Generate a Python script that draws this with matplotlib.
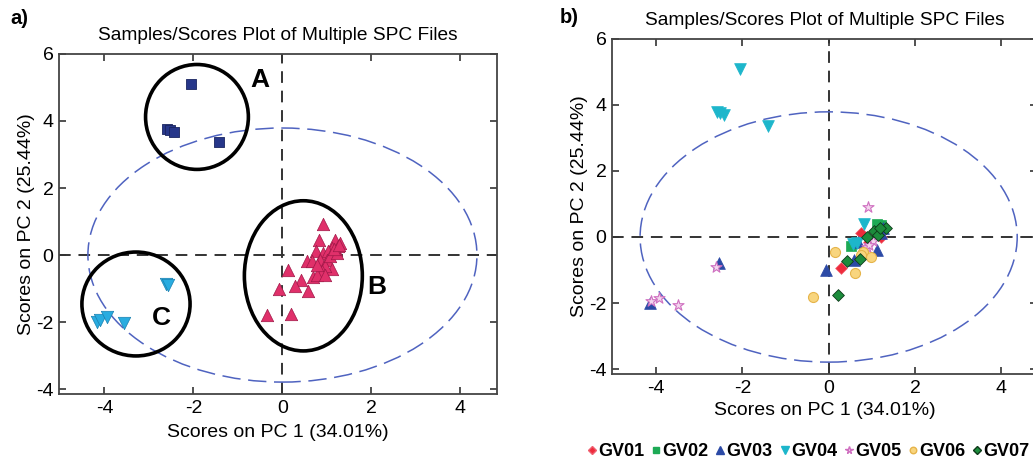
import numpy as np
import matplotlib
matplotlib.use("Agg")
from matplotlib import pyplot as plt
from matplotlib.patches import Ellipse
from matplotlib.lines import Line2D

plt.rcParams['font.family'] = ['Liberation Sans', 'DejaVu Sans']
plt.rcParams['axes.unicode_minus'] = False

# ---- panel a data: three clusters ----
grpA_x = [-2.06, -2.60, -2.52, -2.44, -1.42]
grpA_y = [5.11, 3.77, 3.72, 3.67, 3.37]

grpB_x = [0.92, 0.82, 1.18, 1.30, 1.24, 0.76, 0.92, 1.12, 1.03, 1.21, 0.55, 0.66, 0.85, 1.01,
          1.12, 0.96, 0.88, 0.68, 0.77, 0.41, 0.13, 0.29, -0.07, 0.58, -0.35, 0.19, 0.96, 0.77,
          1.06, 1.22, 1.15, 1.27]
grpB_y = [0.93, 0.44, 0.44, 0.35, 0.26, 0.11, 0.06, 0.21, 0.11, 0.16, -0.19, -0.17, -0.14, -0.16,
          -0.41, -0.34, -0.47, -0.64, -0.59, -0.74, -0.44, -0.92, -1.01, -1.06, -1.78, -1.75, -0.59, -0.29,
          -0.04, 0.06, 0.18, 0.30]

grpC_x = [-2.62, -2.56, -4.16, -4.10, -3.95, -3.55]
grpC_y = [-0.86, -0.90, -2.00, -1.94, -1.85, -2.02]

# hand-drawn cluster circles (center x, center y, width, height) and labels
circ_A = (-1.92, 4.12, 2.31, 3.13)
circ_B = (0.47, -0.62, 2.65, 4.48)
circ_C = (-3.29, -1.46, 2.43, 3.10)
lab_pos = {"A": (-0.5, 5.23), "B": (2.12, -0.94), "C": (-2.73, -1.88)}

# 95% confidence ellipse (center, semi axes)
conf_c = (0.0, 0.0)
conf_a, conf_b = 4.37, 3.79

# ---- panel b data: per sample group ----
gv_names = ["GV01", "GV02", "GV03", "GV04", "GV05", "GV06", "GV07"]
gv01_x = [0.75, 0.29, 0.94, 1.21, 1.27]
gv01_y = [0.11, -0.95, -0.14, 0.01, 0.21]
gv02_x = [0.52, 1.13, 1.21, 1.18]
gv02_y = [-0.26, 0.39, 0.36, 0.30]
gv03_x = [-2.55, -4.14, -0.06, 0.59, 1.13, 0.69, 1.25, 1.21]
gv03_y = [-0.80, -2.01, -1.00, -0.70, -0.39, -0.14, 0.26, 0.11]
gv04_x = [-2.06, -2.58, -2.52, -2.43, -1.41, 0.82, 0.57, 0.66]
gv04_y = [5.09, 3.78, 3.75, 3.68, 3.37, 0.39, -0.22, -0.17]
gv05_x = [0.92, -2.62, -4.12, -3.93, -3.49, 0.90, 1.02, 0.94]
gv05_y = [0.92, -0.90, -1.94, -1.84, -2.06, -0.29, -0.12, -0.24]
gv06_x = [0.14, -0.37, 0.62, 0.80, 0.98, 0.75]
gv06_y = [-0.47, -1.81, -1.09, -0.46, -0.62, -0.55]
gv07_x = [0.21, 0.43, 0.72, 0.88, 1.06, 1.15, 1.32, 1.20]
gv07_y = [-1.77, -0.73, -0.66, -0.01, 0.17, 0.06, 0.28, 0.27]

gv_x = [gv01_x, gv02_x, gv03_x, gv04_x, gv05_x, gv06_x, gv07_x]
gv_y = [gv01_y, gv02_y, gv03_y, gv04_y, gv05_y, gv06_y, gv07_y]
gv_style = [
    dict(marker="D", s=36, c="#EE2B3C", edgecolors="#F06070", linewidths=0.5),
    dict(marker="s", s=58, c="#1DAA55", edgecolors="#1DAA55", linewidths=0.5),
    dict(marker="^", s=72, c="#2C4AA6", edgecolors="#2C4AA6", linewidths=0.5),
    dict(marker="v", s=72, c="#1DB6CB", edgecolors="#1DB6CB", linewidths=0.5),
    dict(marker="*", s=70, c="#F3D6EE", edgecolors="#CF6FC0", linewidths=0.8),
    dict(marker="o", s=52, c="#F8D57E", edgecolors="#E6B44A", linewidths=0.8),
    dict(marker="D", s=36, c="#1C8C3C", edgecolors="#0E3A1A", linewidths=0.6),
]

XLIM = (-5.02, 4.82)
YLIM = (-4.15, 6.0)
TITLE = "Samples/Scores Plot of Multiple SPC Files"
XLAB = "Scores on PC 1 (34.01%)"
YLAB = "Scores on PC 2 (25.44%)"


def style_axes(ax, xpad):
    ax.set_xlim(*XLIM)
    ax.set_ylim(*YLIM)
    ax.set_xticks([-4, -2, 0, 2, 4])
    ax.set_yticks([-4, -2, 0, 2, 4, 6])
    ax.tick_params(direction="in", top=True, right=True, length=5, width=1.2,
                   labelsize=14, colors="#333333", labelcolor="black", pad=4)
    for sp in ax.spines.values():
        sp.set_color("#444444")
        sp.set_linewidth(1.3)
    ax.axhline(0, color="#333333", lw=1.4, ls=(0, (6, 4)), zorder=1)
    ax.axvline(0, color="#333333", lw=1.4, ls=(0, (6, 4)), zorder=1)
    ax.add_patch(Ellipse(conf_c, 2 * conf_a, 2 * conf_b, fill=False, ec="#4F63C0",
                         lw=1.1, ls=(0, (12, 5)), zorder=2))
    ax.set_xlabel(XLAB, fontsize=14, labelpad=xpad)
    ax.set_ylabel(YLAB, fontsize=14, labelpad=1)


fig = plt.figure(figsize=(10.33, 4.61), dpi=100)

# ---- panel a ----
ax1 = fig.add_axes([0.0571, 0.145, 0.424, 0.738])
style_axes(ax1, 5)
ax1.scatter(grpA_x, grpA_y, marker="s", s=55, c="#27378A", edgecolors="#1A2560", lw=0.6, zorder=4)
ax1.scatter(grpB_x, grpB_y, marker="^", s=80, c="#E0306A", edgecolors="#A01848", lw=0.5, zorder=4)
ax1.scatter(grpC_x, grpC_y, marker="v", s=80, c="#29ACE0", edgecolors="#1A80B0", lw=0.5, zorder=4)
for cx, cy, w, h in [circ_A, circ_B, circ_C]:
    ax1.add_patch(Ellipse((cx, cy), w, h, fill=False, ec="black", lw=2.6, zorder=5))
for k, (lx, ly) in lab_pos.items():
    ax1.text(lx, ly, k, fontsize=19, fontweight="bold", ha="center", va="center", zorder=6)
ax1.set_title(TITLE, fontsize=13.8, pad=10)
fig.text(0.010, 0.960, "a)", fontsize=14.5, fontweight="bold", va="center")

# ---- panel b ----
ax2 = fig.add_axes([0.5925, 0.1887, 0.411, 0.727])
style_axes(ax2, 4)
for xs, ys, st in zip(gv_x, gv_y, gv_style):
    ax2.scatter(xs, ys, zorder=4, **st)
ax2.set_title(TITLE, fontsize=13.8, pad=10)
fig.text(0.542, 0.961, "b)", fontsize=14.5, fontweight="bold", va="center")

handles = []
for name, st in zip(gv_names, gv_style):
    handles.append(Line2D([], [], ls="none", marker=st["marker"], markersize=np.sqrt(st["s"]) * 0.65,
                          markerfacecolor=st["c"], markeredgecolor=st["edgecolors"], label=name))
fig.legend(handles=handles, loc="center", bbox_to_anchor=(0.7827, 0.020), ncol=7, frameon=False,
           handlelength=0.5, handletextpad=0.1, columnspacing=0.4, borderpad=0,
           prop=dict(size=13, weight="bold"))

fig.savefig("out.png", dpi=100)
